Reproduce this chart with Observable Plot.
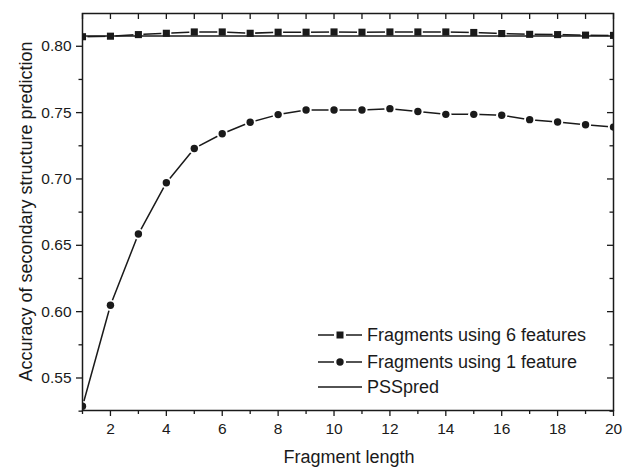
<!DOCTYPE html>
<html>
<head>
<meta charset="utf-8">
<script src="https://cdn.jsdelivr.net/npm/d3@7"></script>
<script src="https://cdn.jsdelivr.net/npm/@observablehq/plot@0.6"></script>
<style>
  html, body { margin: 0; padding: 0; background: #fff; }
  svg { display: block; }
</style>
</head>
<body>
<div id="chart"></div>
<script>
// ---- data ----
const fragmentLength = [1, 2, 3, 4, 5, 6, 7, 8, 9, 10, 11, 12, 13, 14, 15, 16, 17, 18, 19, 20];
const accSixFeatures = [0.8072, 0.8076, 0.8088, 0.8098, 0.8108, 0.8108, 0.8098, 0.8106, 0.8106, 0.8108,
                        0.8106, 0.8108, 0.8108, 0.8108, 0.8104, 0.8096, 0.8090, 0.8088, 0.8084, 0.8082];
const accOneFeature = [0.5287, 0.6048, 0.6585, 0.6972, 0.7230, 0.7341, 0.7427, 0.7485, 0.7520, 0.7520,
                       0.7520, 0.7530, 0.7508, 0.7487, 0.7487, 0.7480, 0.7447, 0.7429, 0.7409, 0.7391];
const psspredAccuracy = 0.8078;
const xMajorTicks = [2, 4, 6, 8, 10, 12, 14, 16, 18, 20];
const xMinorTicks = [1, 3, 5, 7, 9, 11, 13, 15, 17, 19];
const yMajorTicks = [0.55, 0.60, 0.65, 0.70, 0.75, 0.80];
const yMinorTicks = [0.525, 0.575, 0.625, 0.675, 0.725, 0.775];
const seriesLabels = ["Fragments using 6 features", "Fragments using 1 feature", "PSSpred"];
const xLabel = "Fragment length";
const yLabel = "Accuracy of secondary structure prediction";

// ---- build tables ----
const six = fragmentLength.map((x, i) => ({x, y: accSixFeatures[i]}));
const one = fragmentLength.map((x, i) => ({x, y: accOneFeature[i]}));

const W = 623, H = 468;
const mL = 82, mR = 10, mT = 13, mB = 58;
const plotW = W - mL - mR, plotH = H - mT - mB;
const ink = "#1a1a1a";
const font = "'Liberation Sans', Arial, Helvetica, sans-serif";

const chart = Plot.plot({
  width: W,
  height: H,
  marginLeft: mL,
  marginRight: mR,
  marginTop: mT,
  marginBottom: mB,
  style: {fontFamily: font, color: ink, background: "#fff", overflow: "visible"},
  x: {domain: [1, 20]},
  y: {domain: [0.5255, 0.8247]},
  marks: [
    // axes
    Plot.axisX({ticks: xMajorTicks, tickSize: 6, tickPadding: 6, fontSize: 15.5, label: null, tickFormat: d3.format("d"), strokeWidth: 1.3}),
    Plot.axisX({ticks: xMinorTicks, tickSize: 4, tickFormat: () => "", label: null, strokeWidth: 1.3}),
    Plot.axisY({ticks: yMajorTicks, tickSize: 6, tickPadding: 5, fontSize: 15.5, label: null, tickFormat: d3.format(".2f"), strokeWidth: 1.3}),
    Plot.axisY({ticks: yMinorTicks, tickSize: 3.5, tickFormat: () => "", label: null, strokeWidth: 1.3}),
    // inward ticks on top and right
    Plot.ruleX(fragmentLength, {x: d => d, insetBottom: plotH - 6, stroke: ink, strokeWidth: 1.3}),
    Plot.ruleY(yMajorTicks, {y: d => d, insetLeft: plotW - 6, stroke: ink, strokeWidth: 1.3}),
    Plot.ruleY(yMinorTicks, {y: d => d, insetLeft: plotW - 3.5, stroke: ink, strokeWidth: 1.3}),
    // series: 1 feature
    Plot.line(one, {x: "x", y: "y", stroke: ink, strokeWidth: 1.5, clip: true}),
    Plot.dot(one, {x: "x", y: "y", r: 5.6, fill: "#fff", clip: true}),
    Plot.dot(one, {x: "x", y: "y", r: 3.7, fill: ink, clip: true}),
    // series: 6 features
    Plot.line(six, {x: "x", y: "y", stroke: ink, strokeWidth: 1.5, clip: true}),
    Plot.dot(six, {x: "x", y: "y", symbol: "square", r: 5.6, fill: "#fff", clip: true}),
    // PSSpred reference
    Plot.ruleY([psspredAccuracy], {stroke: ink, strokeWidth: 1.5}),
    Plot.dot(six, {x: "x", y: "y", symbol: "square", r: 4, fill: ink, clip: true}),
    Plot.frame({stroke: ink, strokeWidth: 1.5})
  ]
});

document.getElementById("chart").appendChild(chart);

// ---- labels & legend ----
const svg = d3.select(chart);
svg.append("text")
  .attr("x", (mL + W - mR) / 2 + 1.5).attr("y", 463)
  .attr("text-anchor", "middle")
  .attr("font-size", 18).attr("font-family", font).attr("fill", ink)
  .text(xLabel);
svg.append("text")
  .attr("transform", `translate(31.5, ${mT + plotH / 2}) rotate(-90)`)
  .attr("text-anchor", "middle")
  .attr("font-size", 18).attr("font-family", font).attr("fill", ink)
  .text(yLabel);

const legendY = [335, 362, 387];
const legendSymbols = ["square", "circle", null];
const lg = svg.append("g").attr("text-anchor", "start");
seriesLabels.forEach((label, i) => {
  const y = legendY[i];
  const sym = legendSymbols[i];
  if (sym) {
    lg.append("line").attr("x1", 318).attr("x2", 334).attr("y1", y).attr("y2", y).attr("stroke", ink).attr("stroke-width", 1.5);
    lg.append("line").attr("x1", 346).attr("x2", 362).attr("y1", y).attr("y2", y).attr("stroke", ink).attr("stroke-width", 1.5);
    if (sym === "square") {
      lg.append("rect").attr("x", 340 - 3.5).attr("y", y - 3.5).attr("width", 7).attr("height", 7).attr("fill", ink);
    } else {
      lg.append("circle").attr("cx", 340).attr("cy", y).attr("r", 3.7).attr("fill", ink);
    }
  } else {
    lg.append("line").attr("x1", 318).attr("x2", 362).attr("y1", y).attr("y2", y).attr("stroke", ink).attr("stroke-width", 1.5);
  }
  lg.append("text")
    .attr("x", 367).attr("y", y + 6.4)
    .attr("text-anchor", "start")
    .attr("font-size", 18).attr("font-family", font).attr("fill", ink)
    .text(label);
});
</script>
</body>
</html>
